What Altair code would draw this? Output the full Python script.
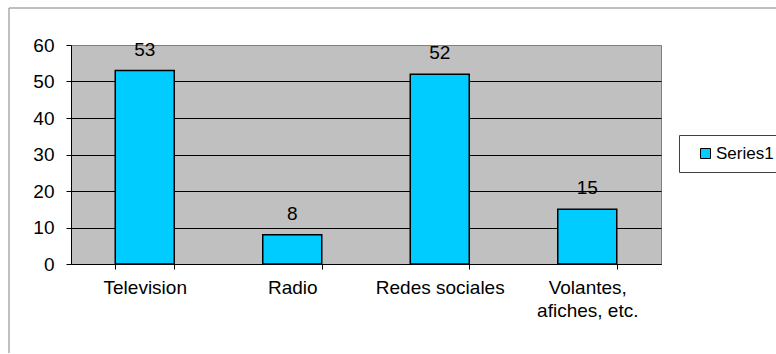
import altair as alt
import pandas as pd

categories = ["Television", "Radio", "Redes sociales", "Volantes, afiches, etc."]
values = [53, 8, 52, 15]
series_name = ["Series1"] * 4
y_ticks = [0, 10, 20, 30, 40, 50, 60]

df = pd.DataFrame({"cat": categories, "val": values, "series": series_name})

FONT = "Liberation Sans"
FS = 19

base = alt.Chart(df)

bars = base.mark_bar(stroke="black", strokeWidth=1.5).encode(
    x=alt.X("cat:N", sort=categories, title=None,
            scale=alt.Scale(paddingInner=0.6, paddingOuter=0.3),
            axis=alt.Axis(labelAngle=0, tickBand="extent", tickSize=5, labelPadding=9,
                          domainColor="black", tickColor="black", labelColor="black",
                          labelFont=FONT, labelFontSize=FS, labelLineHeight=23,
                          labelOverlap=False, labelLimit=300,
                          labelExpr="datum.label == 'Volantes, afiches, etc.' ? ['Volantes,', 'afiches, etc.'] : datum.label",
                          grid=False)),
    y=alt.Y("val:Q", title=None,
            scale=alt.Scale(domain=[0, 60], nice=False),
            axis=alt.Axis(values=y_ticks, tickCount=7, tickSize=5, labelPadding=12,
                          labelOverlap=False,
                          domainColor="black", tickColor="black", labelColor="black",
                          labelFont=FONT, labelFontSize=FS,
                          grid=True,
                          gridColor={"condition": {"test": "datum.value == 60", "value": "#808080"}, "value": "black"},
                          gridWidth=1)),
    color=alt.Color("series:N", title=None,
                    scale=alt.Scale(range=["#00CCFF"]),
                    legend=alt.Legend(orient="none", legendX=608, legendY=90,
                                      symbolType="square", symbolSize=100,
                                      symbolStrokeColor="black", symbolStrokeWidth=1,
                                      labelFont=FONT, labelFontSize=17, labelColor="black",
                                      labelOffset=2,
                                      padding=10, symbolOffset=8,
                                      strokeColor="#404040", fillColor="white")),
)

labels = base.mark_text(dy=-15, baseline="alphabetic", font=FONT, fontSize=FS, color="black").encode(
    x=alt.X("cat:N", sort=categories),
    y=alt.Y("val:Q"),
    text=alt.Text("val:Q"),
)

frame = alt.Chart(pd.DataFrame({"k": [0]})).mark_rect(fill="transparent", stroke="#808080", strokeWidth=1).encode(
    x=alt.value(-62), x2=alt.value(760), y=alt.value(-37), y2=alt.value(330)
)

chart = alt.layer(frame, bars, labels).properties(
    width=590, height=219,
    padding={"left": 71, "top": 45, "right": 115, "bottom": 89},
    autosize="none",
    background="white",
).configure_view(fill="#C0C0C0", stroke="#808080")

chart.save("out.html", embed_options={"renderer": "svg", "actions": False})
